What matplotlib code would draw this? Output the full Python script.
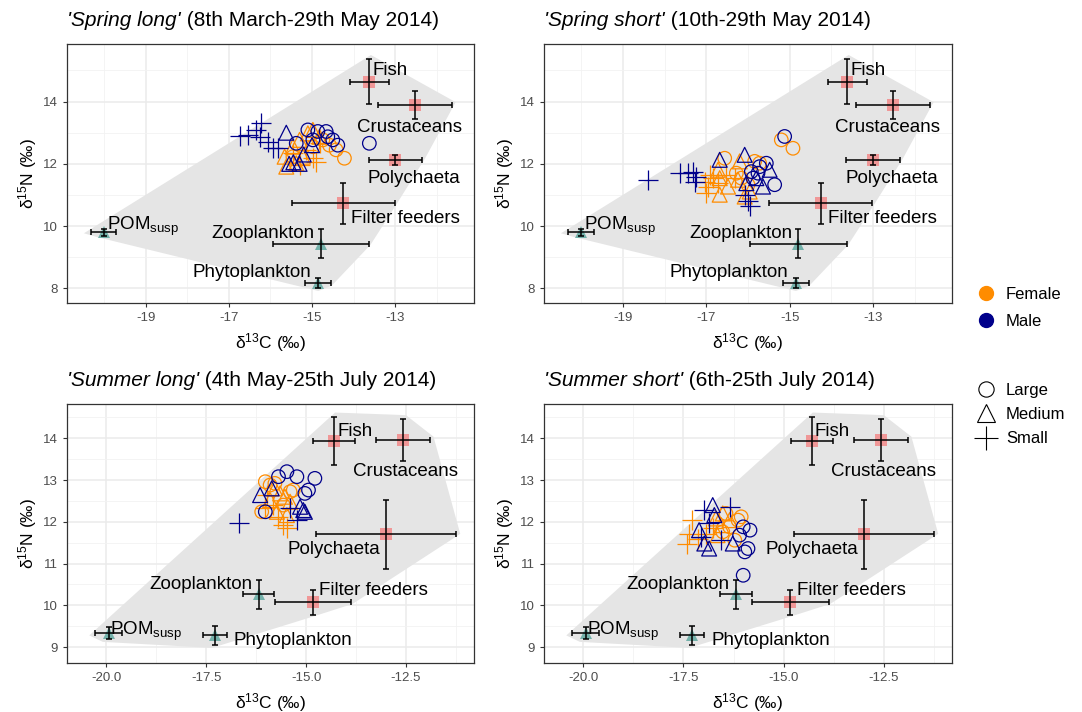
import numpy as np
import matplotlib.pyplot as plt
from matplotlib.lines import Line2D

plt.rcParams['font.family'] = ['Liberation Sans', 'DejaVu Sans']
plt.rcParams['mathtext.fontset'] = 'custom'
plt.rcParams['mathtext.rm'] = 'Liberation Sans'
plt.rcParams['mathtext.it'] = 'Liberation Sans:italic'

# sources: mean and sd of d13C / d15N
sources = ['Fish', 'Crustaceans', 'Polychaeta', 'Filter feeders',
           'Zooplankton', 'Phytoplankton', 'POM$_{\\mathrm{susp}}$']
src_kind = ['benthic', 'benthic', 'benthic', 'benthic', 'pelagic', 'pelagic', 'pelagic']

spring_c = [-13.62, -12.52, -13.00, -14.25, -14.79, -14.85, -20.02]
spring_c_sd = [0.47, 0.88, 0.64, 1.24, 1.16, 0.31, 0.31]
spring_n = [14.64, 13.89, 12.12, 10.73, 9.44, 8.16, 9.80]
spring_n_sd = [0.72, 0.46, 0.15, 0.67, 0.47, 0.16, 0.12]

summer_c = [-14.30, -12.58, -13.00, -14.83, -16.19, -17.29, -19.94]
summer_c_sd = [0.52, 0.67, 1.74, 0.95, 0.39, 0.30, 0.33]
summer_n = [13.94, 13.96, 11.70, 10.07, 10.26, 9.28, 9.34]
summer_n_sd = [0.58, 0.50, 0.82, 0.29, 0.35, 0.23, 0.15]

# label anchor points
spring_lab_x = [-13.54, -12.66, -12.55, -12.76, -16.18, -16.45, -19.94]
spring_lab_y = [14.84, 13.01, 11.40, 10.09, 9.61, 8.35, 9.87]
summer_lab_x = [-14.22, -12.52, -14.30, -13.31, -17.64, -15.32, -19.90]
summer_lab_y = [14.06, 13.10, 11.22, 10.24, 10.38, 9.06, 9.30]
lab_ha = ['left', 'center', 'center', 'center', 'center', 'center', 'left']

# consumers: (d13C, d15N) per sex and size class
spring_long = {
    ('Female', 'Large'): [(-14.74, 12.77), (-14.58, 12.60), (-14.42, 12.45), (-14.22, 12.18),
                          (-15.46, 12.23), (-14.98, 12.55)],
    ('Female', 'Medium'): [(-15.66, 12.23), (-15.62, 11.91), (-15.46, 12.55), (-15.30, 12.77),
                           (-15.10, 12.98), (-14.98, 13.09), (-14.82, 12.87), (-15.22, 12.23),
                           (-15.38, 12.02)],
    ('Female', 'Small'): [(-15.14, 12.45), (-14.98, 12.18), (-15.30, 11.96), (-15.46, 12.34),
                          (-14.82, 12.66), (-14.90, 12.07)],
    ('Male', 'Large'): [(-15.10, 13.09), (-14.86, 13.04), (-14.66, 13.04), (-14.62, 12.87),
                        (-14.50, 12.77), (-14.38, 12.60), (-13.62, 12.66), (-14.98, 12.77),
                        (-15.38, 12.66)],
    ('Male', 'Medium'): [(-15.62, 13.00), (-15.55, 12.00), (-15.45, 12.05), (-15.30, 12.00),
                         (-15.20, 12.30), (-15.00, 12.60)],
    ('Male', 'Small'): [(-16.74, 12.90), (-16.54, 12.93), (-16.36, 13.09), (-16.22, 13.30),
                        (-16.26, 12.87), (-16.06, 12.71), (-15.94, 12.50), (-15.82, 12.50)],
}
spring_short = {
    ('Female', 'Large'): [(-16.56, 12.18), (-16.28, 11.70), (-16.16, 11.54), (-15.84, 12.08),
                          (-15.72, 12.02), (-16.00, 11.33), (-15.20, 12.77), (-14.92, 12.50)],
    ('Female', 'Medium'): [(-16.68, 11.01), (-16.72, 11.81), (-16.20, 12.08), (-16.24, 11.49),
                           (-16.48, 11.27), (-16.08, 10.95), (-15.96, 11.11), (-16.68, 11.54)],
    ('Female', 'Small'): [(-17.04, 11.43), (-16.96, 11.27), (-16.92, 11.65), (-16.84, 11.54),
                          (-17.00, 11.06), (-16.72, 11.38), (-16.52, 11.65), (-16.32, 11.54)],
    ('Male', 'Large'): [(-15.12, 12.88), (-15.36, 11.33), (-15.72, 11.91), (-15.76, 11.70),
                        (-15.56, 12.02), (-15.88, 11.54), (-15.92, 11.75)],
    ('Male', 'Medium'): [(-16.68, 12.13), (-16.08, 12.29), (-15.80, 11.54), (-15.48, 11.81),
                         (-15.64, 11.27), (-16.04, 11.38)],
    ('Male', 'Small'): [(-18.40, 11.49), (-17.64, 11.70), (-17.44, 11.70), (-17.32, 11.75),
                        (-17.24, 11.59), (-17.28, 11.43), (-16.00, 10.80), (-16.08, 11.01),
                        (-15.96, 10.63)],
}
summer_long = {
    ('Female', 'Large'): [(-16.02, 12.96), (-15.90, 12.88), (-15.78, 12.92), (-15.40, 12.72),
                          (-15.32, 12.76), (-16.11, 12.24), (-15.57, 12.40)],
    ('Female', 'Medium'): [(-15.78, 12.80), (-15.65, 12.68), (-15.53, 12.60), (-15.90, 12.52),
                           (-15.40, 12.48), (-15.73, 12.24), (-15.48, 12.16)],
    ('Female', 'Small'): [(-15.98, 12.64), (-15.82, 12.40), (-15.57, 11.92), (-15.48, 11.84),
                          (-15.69, 12.12), (-16.02, 12.32)],
    ('Male', 'Large'): [(-15.48, 13.20), (-15.23, 13.08), (-14.78, 13.04), (-14.94, 12.76),
                        (-15.03, 12.68), (-15.69, 13.08), (-16.02, 12.24)],
    ('Male', 'Medium'): [(-16.15, 12.64), (-15.15, 12.36), (-15.07, 12.28), (-15.03, 12.24),
                         (-15.86, 12.80)],
    ('Male', 'Small'): [(-16.67, 11.96), (-15.23, 12.04), (-15.40, 12.32)],
}
summer_short = {
    ('Female', 'Large'): [(-16.44, 12.20), (-16.14, 12.04), (-16.35, 11.88), (-16.06, 12.12),
                          (-16.52, 11.76), (-16.22, 11.56)],
    ('Female', 'Medium'): [(-16.69, 12.08), (-16.52, 12.20), (-16.35, 12.04), (-16.56, 11.92),
                           (-16.65, 11.68)],
    ('Female', 'Small'): [(-17.28, 12.04), (-17.41, 11.48), (-17.15, 11.60), (-16.94, 11.72),
                          (-16.77, 11.84), (-17.36, 11.72)],
    ('Male', 'Large'): [(-16.01, 10.72), (-15.89, 11.36), (-15.97, 11.28), (-15.84, 11.80),
                        (-16.01, 11.88), (-16.10, 11.68)],
    ('Male', 'Medium'): [(-16.77, 12.40), (-16.73, 12.16), (-16.86, 11.36), (-16.98, 11.48),
                         (-16.27, 11.48), (-17.11, 11.80)],
    ('Male', 'Small'): [(-16.98, 12.28), (-16.35, 12.36), (-17.07, 11.64), (-16.56, 11.56),
                        (-16.86, 11.96)],
}

titles = [("'Spring long'", ' (8th March-29th May 2014)'),
          ("'Spring short'", ' (10th-29th May 2014)'),
          ("'Summer long'", ' (4th May-25th July 2014)'),
          ("'Summer short'", ' (6th-25th July 2014)')]

sex_col = {'Female': '#FF8C00', 'Male': '#00008B'}
size_mark = {'Large': 'o', 'Medium': '^', 'Small': '+'}
size_s = {'Large': 95, 'Medium': 115, 'Small': 210}


def hull(pts):
    pts = sorted(set(pts))
    def cross(o, a, b):
        return (a[0] - o[0]) * (b[1] - o[1]) - (a[1] - o[1]) * (b[0] - o[0])
    lo, up = [], []
    for p in pts:
        while len(lo) >= 2 and cross(lo[-2], lo[-1], p) <= 0:
            lo.pop()
        lo.append(p)
    for p in reversed(pts):
        while len(up) >= 2 and cross(up[-2], up[-1], p) <= 0:
            up.pop()
        up.append(p)
    return np.array(lo[:-1] + up[:-1])


fig = plt.figure(figsize=(10.82, 7.12), dpi=100)


def panel(box, c, csd, n, nsd, labx, laby, consumers, title, xmaj, xmin_, ymaj, ymin_, xlim, ylim, xfmt):
    l, t, r, b = box
    ax = fig.add_axes([l / 1082, 1 - b / 712, (r - l) / 1082, (b - t) / 712])
    ax.set_xlim(*xlim)
    ax.set_ylim(*ylim)
    ax.set_xticks(xmaj)
    ax.set_xticklabels([xfmt.format(v) for v in xmaj])
    ax.set_xticks(xmin_, minor=True)
    ax.set_yticks(ymaj)
    ax.set_yticks(ymin_, minor=True)
    ax.grid(which='major', color='#EBEBEB', lw=1.1, zorder=0)
    ax.grid(which='minor', color='#F2F2F2', lw=0.6, zorder=0)
    ax.set_axisbelow(True)
    for sp in ax.spines.values():
        sp.set_color('#333333')
        sp.set_linewidth(0.9)
    ax.tick_params(which='major', length=3, color='#333333', labelcolor='#4D4D4D', labelsize=9.5)
    ax.tick_params(which='minor', length=0)

    # mixing polygon from source mean +/- sd
    pts = []
    for xi, xs, yi, ys in zip(c, csd, n, nsd):
        pts += [(xi - xs, yi), (xi + xs, yi), (xi, yi - ys), (xi, yi + ys)]
    h = hull(pts)
    cen = h.mean(axis=0)
    h = cen + (h - cen) * 1.03
    ax.fill(h[:, 0], h[:, 1], color='#E5E5E5', lw=0, zorder=1)

    # consumers
    for (sex, size), xy in consumers.items():
        xy = np.array(xy)
        if size == 'Small':
            ax.scatter(xy[:, 0], xy[:, 1], marker='+', s=size_s[size], c=sex_col[sex], lw=0.9, zorder=3)
        else:
            ax.scatter(xy[:, 0], xy[:, 1], marker=size_mark[size], s=size_s[size],
                       facecolors='none', edgecolors=sex_col[sex], lw=0.9, zorder=3)

    # sources
    for i in range(len(sources)):
        if src_kind[i] == 'benthic':
            ax.plot(c[i], n[i], 's', ms=8, color='#F28A8A', alpha=0.85, mew=0, zorder=4)
        else:
            ax.plot(c[i], n[i], '^', ms=8, color='#5FA8A0', alpha=0.85, mew=0, zorder=4)
    ax.errorbar(c, n, xerr=csd, yerr=nsd, fmt='none', ecolor='black', elinewidth=1.1,
                capsize=2.2, capthick=1.1, zorder=5)
    for i in range(len(sources)):
        ax.text(labx[i], laby[i], sources[i], ha=lab_ha[i], va='baseline', fontsize=13.5, zorder=6)

    ax.set_xlabel('δ$^{13}$C (‰)', fontsize=12.5, labelpad=5)
    ax.set_ylabel('δ$^{15}$N (‰)', fontsize=12.5, labelpad=3)

    t1 = fig.text(l / 1082, 1 - (t - 18) / 712, title[0], fontsize=15, style='italic',
                  ha='left', va='baseline')
    ax.annotate(title[1], xy=(1, 0), xycoords=t1, fontsize=15, ha='left', va='bottom')
    return ax


spring_x = dict(xmaj=[-19, -17, -15, -13], xmin_=[-20, -18, -16, -14, -12],
                ymaj=[8, 10, 12, 14], ymin_=[9, 11, 13, 15],
                xlim=(-20.9, -11.1), ylim=(7.53, 15.85), xfmt='{:g}')
summer_x = dict(xmaj=[-20, -17.5, -15, -12.5], xmin_=[-18.75, -16.25, -13.75, -11.25],
                ymaj=[9, 10, 11, 12, 13, 14], ymin_=[9.5, 10.5, 11.5, 12.5, 13.5, 14.5],
                xlim=(-20.98, -10.8), ylim=(8.62, 14.82), xfmt='{:.1f}')

panel((67, 44, 474, 303), spring_c, spring_c_sd, spring_n, spring_n_sd, spring_lab_x, spring_lab_y,
      spring_long, titles[0], **spring_x)
panel((544, 44, 952, 303), spring_c, spring_c_sd, spring_n, spring_n_sd, spring_lab_x, spring_lab_y,
      spring_short, titles[1], **spring_x)
panel((67, 404, 474, 663), summer_c, summer_c_sd, summer_n, summer_n_sd, summer_lab_x, summer_lab_y,
      summer_long, titles[2], **summer_x)
panel((544, 404, 952, 663), summer_c, summer_c_sd, summer_n, summer_n_sd, summer_lab_x, summer_lab_y,
      summer_short, titles[3], **summer_x)

sex_handles = [Line2D([], [], ls='none', marker='o', ms=10, color=sex_col[s]) for s in ['Female', 'Male']]
fig.legend(sex_handles, ['Female', 'Male'], loc='upper left', bbox_to_anchor=(961 / 1082, 1 - 272 / 712),
           frameon=False, fontsize=12, handlelength=1.2, handletextpad=0.6, labelspacing=0.7)
size_handles = [Line2D([], [], ls='none', marker='o', ms=11, mfc='none', mec='black', mew=0.8),
                Line2D([], [], ls='none', marker='^', ms=13, mfc='none', mec='black', mew=0.8),
                Line2D([], [], ls='none', marker='+', ms=17, color='black', mew=0.8)]
fig.legend(size_handles, ['Large', 'Medium', 'Small'], loc='upper left',
           bbox_to_anchor=(961 / 1082, 1 - 368 / 712),
           frameon=False, fontsize=12, handlelength=1.2, handletextpad=0.6, labelspacing=0.55)

fig.savefig('out.png', dpi=100)
